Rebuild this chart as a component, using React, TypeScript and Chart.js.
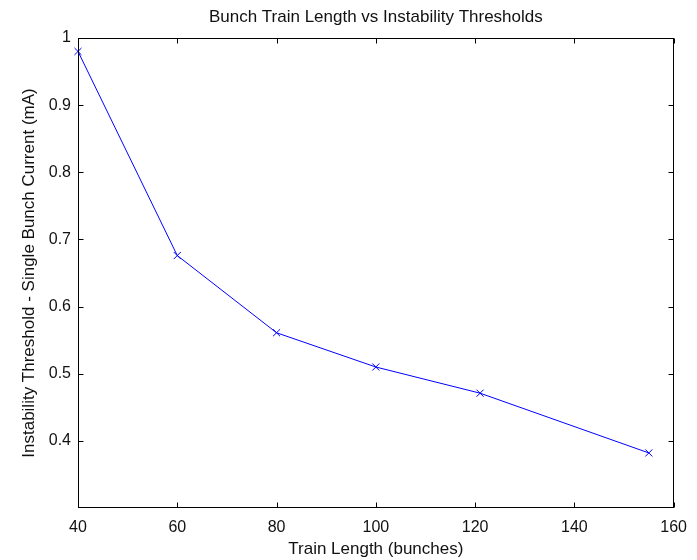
import React, { useEffect, useRef } from "react";
import { Chart, registerables } from "chart.js";

Chart.register(...registerables);

const trainLengths = [40, 60, 80, 100, 121, 155];
const thresholds = [0.98, 0.676, 0.561, 0.51, 0.471, 0.382];
const xTickValues = [40, 60, 80, 100, 120, 140, 160];
const yTickValues = [0.4, 0.5, 0.6, 0.7, 0.8, 0.9, 1];

const chartTitle = "Bunch Train Length vs Instability Thresholds";
const xTitle = "Train Length (bunches)";
const yTitle = "Instability Threshold - Single Bunch Current (mA)";

const FONT = "'Liberation Sans', Arial, Helvetica, sans-serif";
const TICK_LEN = 5;

// Box around the plot area with inward tick marks on all four sides
const frameTicks = {
  id: "frameTicks",
  afterDraw(chart: any) {
    const { ctx, chartArea } = chart;
    const { left, right, top, bottom } = chartArea;
    const xs = chart.scales.x;
    const ys = chart.scales.y;
    ctx.save();
    ctx.strokeStyle = "#000";
    ctx.lineWidth = 1;
    const L = Math.round(left) + 0.5;
    const R = Math.round(right) - 0.5;
    const T = Math.round(top) + 0.5;
    const B = Math.round(bottom) - 0.5;
    ctx.strokeRect(L, T, R - L, B - T);
    ctx.beginPath();
    xTickValues.forEach((v) => {
      const px = Math.round(xs.getPixelForValue(v)) + 0.5;
      ctx.moveTo(px, B);
      ctx.lineTo(px, B - TICK_LEN);
      ctx.moveTo(px, T);
      ctx.lineTo(px, T + TICK_LEN);
    });
    yTickValues.forEach((v) => {
      const py = Math.round(ys.getPixelForValue(v)) + 0.5;
      ctx.moveTo(L, py);
      ctx.lineTo(L + TICK_LEN, py);
      ctx.moveTo(R, py);
      ctx.lineTo(R - TICK_LEN, py);
    });
    ctx.stroke();
    ctx.restore();
  },
};

export default function App() {
  const canvasRef = useRef<HTMLCanvasElement | null>(null);

  useEffect(() => {
    const canvas = canvasRef.current;
    if (!canvas) return;
    const chart = new Chart(canvas, {
      type: "line",
      data: {
        datasets: [
          {
            data: trainLengths.map((x, i) => ({ x, y: thresholds[i] })),
            borderColor: "#0000ff",
            backgroundColor: "#0000ff",
            borderWidth: 1,
            pointStyle: "crossRot",
            pointRadius: 5,
            pointBorderWidth: 1,
            pointBorderColor: "#0000ff",
            tension: 0,
            fill: false,
            clip: false as any,
          },
        ],
      },
      options: {
        responsive: false,
        animation: false,
        layout: { padding: { top: 0, right: 22, bottom: 0, left: 0 } },
        plugins: {
          legend: { display: false },
          tooltip: { enabled: false },
          title: { display: false },
        },
        scales: {
          // top axis carries the chart heading, centred over the plot area
          top: {
            type: "linear",
            position: "top",
            min: 40,
            max: 160,
            afterFit: (s: any) => {
              s.height = 38;
            },
            grid: { display: false, drawTicks: false },
            border: { display: false },
            ticks: { display: false },
            title: {
              display: true,
              text: chartTitle,
              color: "#111",
              font: { family: FONT, size: 17 },
              padding: { top: 6.8, bottom: 0 },
            },
          },
          x: {
            type: "linear",
            position: "bottom",
            min: 40,
            max: 160,
            afterBuildTicks: (s: any) => {
              s.ticks = xTickValues.map((value) => ({ value }));
            },
            afterFit: (s: any) => {
              s.height = 52;
            },
            grid: { display: false, drawTicks: false },
            border: { display: false },
            ticks: {
              color: "#111",
              padding: 10,
              maxRotation: 0,
              font: { family: FONT, size: 16 },
              callback: (v: any) => String(v),
            },
            title: {
              display: true,
              text: xTitle,
              color: "#111",
              font: { family: FONT, size: 17 },
              padding: { top: 0, bottom: 0 },
            },
          },
          y: {
            type: "linear",
            min: 0.3,
            max: 1,
            afterBuildTicks: (s: any) => {
              s.ticks = yTickValues.map((value) => ({ value }));
            },
            afterFit: (s: any) => {
              s.width = 78;
            },
            grid: { display: false, drawTicks: false },
            border: { display: false },
            ticks: {
              color: "#111",
              padding: 7,
              font: { family: FONT, size: 16 },
              callback: (v: any) => String(Number(Number(v).toFixed(1))),
            },
            title: {
              display: true,
              text: yTitle,
              color: "#111",
              font: { family: FONT, size: 17 },
              padding: { top: 19, bottom: 0 },
            },
          },
        },
      },
      plugins: [frameTicks],
    });
    return () => chart.destroy();
  }, []);

  return (
    <div
      style={{
        position: "absolute",
        left: 0,
        top: 0,
        width: 697,
        height: 560,
        background: "#fff",
      }}
    >
      <canvas ref={canvasRef} width={697} height={560} style={{ display: "block" }} />
    </div>
  );
}
